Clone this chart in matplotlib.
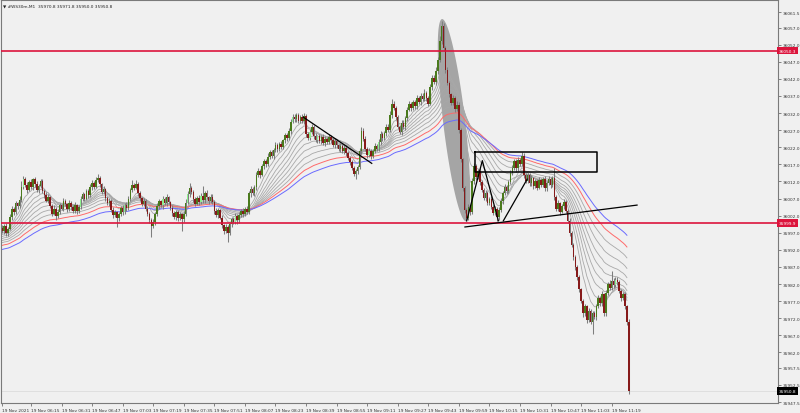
import matplotlib
matplotlib.use("Agg")
import numpy as np
import matplotlib.pyplot as plt

# -----------------------------------------------------------------------------
# ------------ DATA  (#WS30m M1, 19 Nov 2021, bar 0 = 06:00)
# -----------------------------------------------------------------------------

first_open = 35998.5
closes = [
    35997.5, 35999.0, 35996.8, 35998.2, 36001.5, 36004.0, 36003.2, 36005.6, 36004.8, 36006.5,
    36010.5, 36012.8, 36011.0, 36009.6, 36011.8, 36010.4, 36012.6, 36011.2, 36009.5, 36010.8,
    36012.0, 36009.2, 36008.0, 36006.4, 36007.5, 36004.8, 36002.6, 36003.9, 36001.8, 36003.2,
    36005.0, 36004.1, 36006.2, 36005.3, 36004.0, 36005.8, 36004.6, 36003.5, 36005.0, 36003.3,
    36004.6, 36006.8, 36008.2, 36007.0, 36009.1, 36008.0, 36010.3, 36011.6, 36010.5, 36012.4,
    36013.0, 36011.2, 36008.9, 36009.8, 36007.1, 36005.6, 36006.4, 36003.8, 36002.1, 36003.0,
    36001.2, 36002.5, 36004.3, 36003.0, 36005.1, 36004.2, 36006.9, 36009.5, 36011.0, 36010.2,
    36011.4, 36008.6, 36007.2, 36005.5, 36006.3, 36004.0, 36002.6, 36000.8, 35998.9, 36000.2,
    36002.5, 36004.8, 36006.2, 36005.0, 36006.8, 36005.6, 36007.4, 36006.0, 36004.3, 36002.8,
    36001.6, 36003.0, 36001.2, 36002.4, 36000.9, 36002.6, 36005.8, 36008.4, 36010.1, 36009.0,
    36006.8, 36005.5, 36007.2, 36006.0, 36007.9, 36006.5, 36008.6, 36007.4, 36006.2, 36007.6,
    36006.0, 36003.5, 36002.2, 36003.6, 36001.4, 35999.2, 35997.6, 35998.8, 35997.0, 35999.5,
    36001.0, 36000.2, 36001.8, 36000.6, 36002.3, 36003.5, 36002.4, 36004.0, 36003.2, 36008.5,
    36009.8, 36008.6, 36010.3, 36013.8, 36015.2, 36014.0, 36016.4, 36018.0, 36017.1, 36019.3,
    36020.5, 36019.4, 36021.2, 36022.6, 36021.5, 36023.0, 36022.2, 36024.0, 36025.5, 36024.6,
    36026.8, 36029.5, 36031.0, 36030.2, 36031.4, 36029.8, 36030.9, 36029.6, 36031.2, 36026.0,
    36024.8, 36026.6, 36027.8, 36025.4, 36024.0, 36025.2, 36023.8, 36024.9, 36023.2, 36024.5,
    36023.6, 36025.0, 36024.1, 36022.8, 36023.9, 36022.6, 36021.4, 36022.5, 36020.8, 36021.9,
    36020.4, 36019.0, 36017.6, 36016.0, 36014.2, 36015.0, 36016.3, 36021.0, 36026.8, 36024.5,
    36021.5, 36019.8, 36021.0, 36019.6, 36020.8, 36022.4, 36021.6, 36023.5, 36025.8, 36024.6,
    36026.2, 36028.0, 36027.1, 36031.5, 36034.8, 36033.6, 36030.8, 36028.0, 36026.5, 36029.2,
    36028.0, 36030.5, 36033.0, 36034.6, 36033.4, 36035.2, 36034.0, 36036.3, 36035.1, 36037.0,
    36036.2, 36038.0, 36036.4, 36034.8, 36039.5, 36042.4, 36041.0, 36044.2, 36047.5, 36053.0,
    36057.5, 36051.0, 36044.5, 36040.8, 36037.5, 36035.0, 36036.4, 36033.2, 36034.5, 36027.0,
    36018.5, 36010.0, 36003.6, 36001.2, 36004.5, 36003.0, 36012.0, 36016.5, 36013.2, 36015.0,
    36011.8, 36009.5, 36007.2, 36008.6, 36005.8, 36006.9, 36004.6, 36002.9, 36004.0, 36001.5,
    36003.8, 36006.2, 36008.5, 36010.4, 36009.2, 36011.8, 36014.6, 36016.0, 36017.9, 36015.8,
    36018.4, 36017.2, 36019.6, 36014.0, 36012.2, 36013.8, 36011.5, 36012.9, 36010.6, 36012.0,
    36010.2, 36012.4, 36011.0, 36012.6, 36010.0, 36011.5, 36012.8, 36010.9, 36013.0, 36007.5,
    36004.0, 36005.6, 36003.2, 36004.8, 36006.0, 36003.5, 36000.5, 35997.0, 35993.5, 35990.0,
    35987.0, 35984.0, 35980.5, 35977.0, 35973.5, 35975.5, 35971.5, 35974.0, 35971.0, 35973.5,
    35972.5, 35975.5, 35977.8, 35976.5, 35979.0, 35973.5, 35979.5, 35982.0, 35981.0, 35983.0,
    35981.8, 35983.2, 35982.5, 35980.0, 35978.0, 35979.2, 35975.5, 35970.8, 35950.8,
]
# wick length above / below the body, in points
up_wick = [
    0.8, 0.5, 1.0, 0.6, 0.9, 0.7, 0.4, 0.8, 0.5, 1.2,  1.5, 0.9, 0.6, 0.8, 0.7, 1.0, 0.5, 0.6, 0.9, 0.4,
    0.8, 0.6, 0.5, 0.9, 0.7, 0.4, 0.6, 1.1, 0.5, 0.8,  0.7, 0.5, 0.9, 0.6, 0.4, 0.8, 0.5, 0.6, 1.0, 0.5,
    0.6, 0.9, 0.7, 0.5, 0.8, 0.6, 1.0, 0.7, 0.5, 0.9,  1.2, 0.6, 0.5, 0.8, 0.4, 0.7, 0.9, 0.5, 0.6, 0.8,
    0.5, 0.7, 0.6, 0.9, 0.5, 0.8, 1.0, 0.6, 1.3, 0.7,  0.9, 0.5, 0.6, 0.4, 0.8, 0.5, 0.7, 0.6, 0.5, 0.9,
    0.6, 0.8, 0.7, 0.5, 1.0, 0.6, 0.9, 0.5, 0.4, 0.7,  0.5, 0.8, 0.6, 0.7, 0.5, 0.9, 1.0, 0.7, 1.4, 0.6,
    0.5, 0.8, 0.6, 0.9, 0.7, 2.7, 0.6, 0.8, 0.5, 0.7,  0.6, 0.5, 0.8, 0.6, 0.4, 0.7, 0.5, 0.9, 0.6, 0.8,
    0.7, 0.5, 0.9, 0.6, 0.8, 0.5, 0.7, 0.6, 0.9, 0.8,  1.0, 0.6, 0.8, 0.9, 0.7, 0.5, 0.8, 0.6, 0.7, 0.9,
    0.6, 0.8, 0.5, 1.0, 0.7, 0.6, 0.9, 0.5, 0.8, 0.6,  0.7, 0.9, 0.6, 0.8, 0.5, 0.7, 0.6, 0.9, 0.8, 0.6,
    0.5, 0.8, 0.9, 0.6, 0.7, 0.5, 0.8, 0.6, 0.9, 0.7,  0.6, 0.9, 0.5, 0.7, 0.8, 0.6, 0.5, 0.9, 0.6, 0.8,
    0.7, 0.5, 0.6, 0.8, 0.5, 0.7, 0.6, 0.9, 1.0, 0.7,  0.8, 0.6, 0.9, 0.5, 0.7, 0.8, 0.6, 0.9, 1.1, 0.7,
    0.6, 0.9, 0.7, 1.0, 1.2, 0.8, 0.6, 0.7, 0.5, 0.8,  0.7, 0.6, 0.9, 0.8, 0.5, 0.7, 0.6, 0.9, 0.7, 1.0,
    0.8, 0.9, 0.6, 0.7, 1.0, 0.8, 0.6, 1.2, 0.9, 1.4,  1.5, 0.8, 0.6, 0.9, 0.7, 0.5, 0.8, 0.6, 0.9, 0.7,
    0.6, 0.5, 0.7, 0.6, 0.8, 0.5, 0.9, 0.8, 0.6, 0.7,  0.8, 0.6, 0.5, 0.9, 0.7, 0.6, 0.8, 0.5, 0.7, 0.6,
    0.7, 0.9, 0.6, 0.8, 0.5, 0.7, 0.9, 0.8, 0.6, 0.7,  0.8, 0.6, 1.0, 0.7, 0.5, 0.8, 0.6, 0.9, 0.5, 0.7,
    0.6, 0.8, 0.5, 0.7, 0.9, 0.6, 0.8, 0.5, 0.7, 2.8,  0.6, 0.9, 0.5, 0.7, 0.8, 0.6, 0.5, 0.7, 0.6, 0.5,
    0.6, 0.5, 0.7, 0.5, 0.6, 0.8, 0.5, 0.9, 0.6, 0.7,  0.5, 0.8, 0.9, 0.6, 1.0, 0.5, 0.8, 0.7, 1.2, 2.8,
    0.7, 0.9, 0.8, 0.6, 0.7, 0.5, 0.6, 0.5, 1.0,
]
down_wick = [
    0.7, 0.9, 0.6, 0.8, 0.5, 0.7, 0.9, 0.6, 0.8, 0.5,  0.6, 0.8, 0.7, 0.9, 0.5, 0.6, 0.8, 0.7, 0.5, 0.9,
    0.6, 0.7, 0.9, 0.5, 0.8, 0.6, 0.7, 0.5, 1.2, 0.6,  0.8, 0.5, 0.7, 0.6, 0.9, 0.5, 0.8, 0.7, 0.6, 0.9,
    0.5, 0.7, 0.6, 0.8, 0.5, 0.9, 0.6, 0.7, 0.8, 0.5,  0.6, 0.8, 0.7, 0.5, 0.9, 0.6, 0.7, 0.8, 0.9, 0.6,
    2.6, 0.7, 0.5, 0.8, 0.6, 0.9, 0.5, 0.7, 0.6, 0.8,  0.5, 0.7, 0.9, 0.6, 0.8, 0.5, 0.7, 0.9, 3.1, 0.6,
    0.8, 0.5, 0.7, 0.6, 0.9, 0.5, 0.8, 0.6, 0.7, 0.9,  0.6, 0.8, 0.7, 0.5, 3.3, 0.6, 0.7, 0.5, 0.8, 0.6,
    0.9, 0.7, 0.5, 0.8, 0.6, 0.7, 0.9, 0.5, 0.8, 0.6,  0.7, 0.9, 0.6, 0.8, 0.5, 0.7, 0.9, 0.6, 2.8, 0.7,
    0.8, 0.6, 0.5, 0.9, 0.7, 0.6, 0.8, 0.5, 0.7, 0.6,  0.9, 0.5, 0.7, 0.8, 0.6, 0.9, 0.5, 0.7, 0.8, 0.6,
    0.7, 0.5, 0.8, 0.6, 0.9, 0.5, 0.7, 0.6, 0.8, 0.7,  0.6, 0.8, 0.5, 0.9, 0.7, 0.6, 0.8, 0.5, 0.7, 0.9,
    0.8, 0.6, 0.7, 0.9, 0.5, 0.8, 0.6, 0.7, 0.5, 0.9,  0.7, 0.5, 0.8, 0.6, 0.9, 0.7, 0.5, 0.8, 0.6, 0.7,
    0.9, 0.6, 0.8, 0.5, 0.7, 1.5, 0.8, 0.6, 0.9, 0.7,  0.5, 0.8, 0.6, 0.9, 0.7, 0.5, 0.8, 0.6, 0.7, 0.9,
    0.6, 0.8, 0.5, 0.7, 0.9, 0.6, 0.8, 0.7, 0.5, 0.8,  0.6, 0.9, 0.7, 0.5, 0.8, 0.6, 0.7, 0.9, 0.5, 0.8,
    0.7, 0.6, 0.9, 0.8, 0.5, 0.7, 0.6, 0.8, 0.9, 0.7,  0.8, 0.9, 0.7, 0.6, 0.8, 0.5, 0.7, 0.9, 0.6, 0.8,
    0.9, 0.7, 0.8, 0.7, 0.6, 0.9, 0.5, 0.8, 0.7, 0.6,  0.8, 0.5, 0.7, 0.9, 0.6, 0.8, 0.5, 0.7, 0.6, 1.0,
    0.7, 0.6, 0.9, 0.5, 0.8, 0.7, 0.6, 0.8, 0.5, 0.9,  0.6, 0.8, 0.7, 0.9, 0.5, 0.6, 0.8, 0.7, 0.9, 0.6,
    0.8, 0.5, 0.7, 0.6, 0.9, 0.8, 0.5, 0.7, 0.6, 0.8,  0.7, 0.6, 0.9, 0.5, 0.8, 0.7, 0.6, 0.8, 0.7, 0.9,
    0.8, 0.7, 0.9, 0.6, 1.1, 0.7, 0.9, 0.6, 0.8, 3.6,  0.7, 0.9, 0.6, 0.8, 1.0, 0.7, 0.9, 0.6, 0.8, 0.7,
    0.8, 0.6, 0.9, 0.7, 0.8, 0.6, 0.9, 0.7, 0.8,
]
# bull candles drawn in the light "bar up" colour
light_bars = [11, 41, 64, 84, 97, 104, 122, 152, 161, 165, 192, 197, 258, 321]

# moving-average ribbon: periods and their values just before bar 0
gray_periods = [8, 12, 17, 22, 28, 35, 44, 55]
gray_seeds = [35998.0, 35997.6, 35997.0, 35996.4, 35995.8, 35995.2, 35994.6, 35994.0]
red_period, red_seed = 68, 35993.2
blue_period, blue_seed = 85, 35992.0

levels = [36050.3, 35999.9]
last_price = 35950.8

# drawn objects (bar index, price)
trend_line = [(157.6, 36030.8), (193.4, 36017.3)]
zigzag_a = [(243.1, 36000.5), (251.3, 36018.1), (259.7, 36000.5)]
zigzag_b = [(262.3, 36000.5), (274.8, 36012.7)]
rising_line = [(242.2, 35998.7), (332.3, 36005.1)]
box = [(247.5, 36020.7), (311.5, 36014.7)]
ellipse_ends = [(230.2, 36059.5), (242.7, 36000.4)]

y_ticks = [36061.5, 36057.0, 36052.0, 36047.0, 36042.0, 36037.0, 36032.0, 36027.0,
           36022.0, 36017.0, 36012.0, 36007.0, 36002.0, 35997.0, 35992.0, 35987.0,
           35982.0, 35977.0, 35972.0, 35967.0, 35962.0, 35957.5, 35952.5, 35947.5]
x_tick_bars = [0, 15, 31, 47, 63, 79, 95, 111, 127, 143, 159, 175, 191, 207,
               223, 239, 255, 271, 287, 303, 319]
x_tick_labels = ["19 Nov 2021", "19 Nov 06:15", "19 Nov 06:31", "19 Nov 06:47",
                 "19 Nov 07:03", "19 Nov 07:19", "19 Nov 07:35", "19 Nov 07:51",
                 "19 Nov 08:07", "19 Nov 08:23", "19 Nov 08:39", "19 Nov 08:55",
                 "19 Nov 09:11", "19 Nov 09:27", "19 Nov 09:43", "19 Nov 09:59",
                 "19 Nov 10:15", "19 Nov 10:31", "19 Nov 10:47", "19 Nov 11:03",
                 "19 Nov 11:19"]
header = "\u25bc #WS30m,M1  35970.8 35971.8 35950.0 35950.8"

# -----------------------------------------------------------------------------
# ------------ FUNCTIONS
# -----------------------------------------------------------------------------

def ema(values, period, seed):
    a = 2.0 / (period + 1)
    out, e = [], seed
    for v in values:
        e = e + a * (v - e)
        out.append(e)
    return np.array(out)


# -----------------------------------------------------------------------------
# ------------ MATPLOTLIB
# -----------------------------------------------------------------------------

bg = "#f0f0f0"
fig = plt.figure(figsize=(8, 4.14), dpi=100, facecolor=bg)
ax = fig.add_axes([1 / 800, 10 / 414, 777 / 800, 403 / 414])
ax.set_facecolor(bg)
ax.set_xlim(-0.7, 406.1)
ax.set_ylim(35947.23, 36065.07)

c = np.array(closes)
o = np.array([first_open] + closes[:-1])
hi = np.maximum(o, c) + np.array(up_wick)
lo = np.minimum(o, c) - np.array(down_wick)
idx = np.arange(len(c))

# ellipse (drawn in screen space from its two end points)
p = ax.transData.transform(ellipse_ends)
ctr = p.mean(axis=0)
vec = p[1] - p[0]
half = np.hypot(*vec) / 2
u = vec / np.hypot(*vec)
v = np.array([-u[1], u[0]])
t = np.linspace(0, 2 * np.pi, 200)
pts = ctr + np.outer(half * np.cos(t), u) + np.outer(11 * np.sin(t), v)
ell = ax.transData.inverted().transform(pts)
ax.fill(ell[:, 0], ell[:, 1], color="#a5a5a5", lw=0, zorder=1)

# MA ribbon (up to the last closed bar)
n_ma = len(c) - 1
for per, seed in zip(gray_periods, gray_seeds):
    ax.plot(idx[:n_ma], ema(c[:n_ma], per, seed), color="#a8a8a8", lw=0.6, zorder=2)
ax.plot(idx[:n_ma], ema(c[:n_ma], red_period, red_seed), color="#ff6a6a", lw=0.7, zorder=2)
ax.plot(idx[:n_ma], ema(c[:n_ma], blue_period, blue_seed), color="#6a6aff", lw=0.7, zorder=2)

# candles
ax.vlines(idx, lo, hi, color="#7e7e7e", lw=0.75, zorder=3)
body_col = np.where(c >= o, "#4a7a1c", "#861a1a").astype(object)
for i in light_bars:
    body_col[i] = "#8cf08c"
height = np.where(np.abs(c - o) < 0.3, 0.3, c - o)
ax.bar(idx, height, bottom=o, width=0.82, color=list(body_col), lw=0, zorder=4)

# levels and current price line
for lv in levels:
    ax.axhline(lv, color="#dc143c", lw=1.2, zorder=5)
ax.axhline(last_price, color="#d9d9d9", lw=0.5, zorder=0)

# drawn objects
for line in (trend_line, zigzag_a, zigzag_b, rising_line):
    xs, ys = zip(*line)
    ax.plot(xs, ys, color="black", lw=0.9, zorder=6, clip_on=False)
(bx0, by0), (bx1, by1) = box
ax.plot([bx0, bx1, bx1, bx0, bx0], [by0, by0, by1, by1, by0], color="black", lw=1.1, zorder=6)

# axes
for s in ax.spines.values():
    s.set_color("#7a7a7a")
    s.set_linewidth(0.8)
ax.yaxis.tick_right()
ax.set_yticks(y_ticks)
ax.set_yticklabels([f"{v:.1f}" for v in y_ticks])
ax.set_xticks(x_tick_bars)
ax.set_xticklabels(x_tick_labels)
ax.tick_params(axis="both", length=2, width=0.5, color="#555555",
               labelsize=3.1, labelcolor="#333333", pad=1.5)
for lab in ax.get_xticklabels():
    lab.set_horizontalalignment("left")

# price tags on the scale
ytr = ax.get_yaxis_transform()
for lv in levels:
    ax.text(1.001, lv, f"{lv:.1f}", transform=ytr, fontsize=3.1, color="white",
            va="center", ha="left", clip_on=False,
            bbox=dict(boxstyle="square,pad=0.4", fc="#dc143c", ec="none"))
ax.text(1.001, last_price, f"{last_price:.1f}", transform=ytr, fontsize=3.1, color="white",
        va="center", ha="left", clip_on=False,
        bbox=dict(boxstyle="square,pad=0.4", fc="black", ec="none"))

fig.text(3 / 800, 1 - 6 / 414, header, fontsize=3.1, color="#222222", va="center")

fig.savefig("out.png", dpi=100, facecolor=bg)
